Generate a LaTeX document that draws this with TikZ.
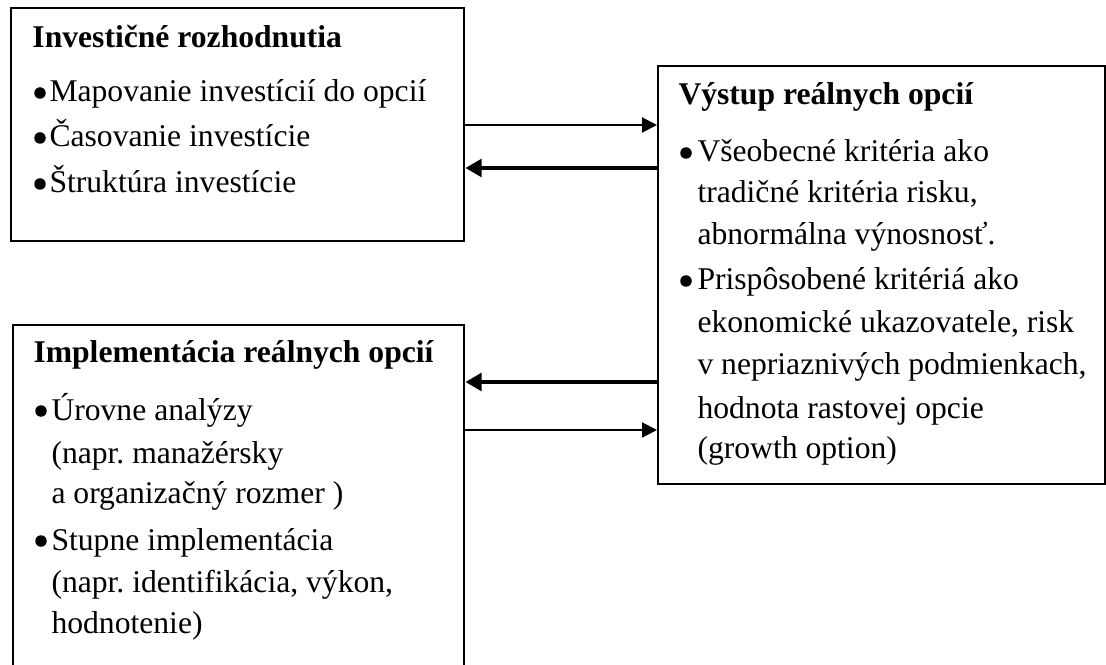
\documentclass[tikz,border=0pt]{standalone}
\usepackage{fontspec}
\setmainfont{Liberation Serif}
\usetikzlibrary{arrows.meta}
\frenchspacing
\begin{document}
\begin{tikzpicture}[x=0.4pt,y=-0.4pt,
  box/.style={draw, line width=0.95pt, anchor=north west, inner sep=0pt},
  ln/.style={anchor=base west, inner sep=0pt, font=\fontsize{12.65}{15}\selectfont},
  ttl/.style={anchor=base west, inner sep=0pt, font=\fontsize{12.65}{15}\selectfont\bfseries},
  bul/.style={circle, fill, inner sep=0pt, minimum size=4.6pt},
  thinarrow/.style={line width=0.8pt, -{Triangle[length=6pt,width=6pt]}},
  thickarrow/.style={line width=1.9pt, -{Triangle[length=6.5pt,width=7pt]}}]
\useasboundingbox (0,0) rectangle (1106,665);
\clip (0,0) rectangle (1106,665);
% boxes
\node[box, minimum width=181.2pt, minimum height=93.2pt] (b1) at (10,7) {};
\node[box, minimum width=178.8pt, minimum height=167.2pt] (b2) at (657,65) {};
\node[box, minimum width=180.4pt, minimum height=150.4pt] (b3) at (12,324) {};
% box 1 text
\node[ttl] (t1) at (32,48) {Investičné rozhodnutia};
\node[bul] (p1a) at (40,93) {};
\node[ln] (l1a) at (49,102) {Mapovanie investícií do opcií};
\node[bul] (p1b) at (40,138) {};
\node[ln] (l1b) at (49,147) {Časovanie investície};
\node[bul] (p1c) at (40,184) {};
\node[ln] (l1c) at (49,193) {Štruktúra investície};
% box 2 text
\node[ttl] (t2) at (678,105) {Výstup reálnych opcií};
\node[bul] (p2a) at (686,153) {};
\node[ln] (l2a) at (697,162) {Všeobecné kritéria ako};
\node[ln] (l2b) at (697,203) {tradičné kritéria risku,};
\node[ln] (l2c) at (697,245) {abnormálna výnosnosť.};
\node[bul] (p2b) at (686,281) {};
\node[ln] (l2d) at (697,290) {Prispôsobené kritériá ako};
\node[ln] (l2e) at (697,333) {ekonomické ukazovatele, risk};
\node[ln] (l2f) at (697,375) {v nepriaznivých podmienkach,};
\node[ln] (l2g) at (697,418) {hodnota rastovej opcie};
\node[ln] (l2h) at (697,458) {(growth option)};
% box 3 text
\node[ttl] (t3) at (33,363) {Implementácia reálnych opcií};
\node[bul] (p3a) at (41,411) {};
\node[ln] (l3a) at (51,420) {Úrovne analýzy};
\node[ln] (l3b) at (51,463) {(napr. manažérsky};
\node[ln] (l3c) at (51,503) {a organizačný rozmer )};
\node[bul] (p3b) at (41,541) {};
\node[ln] (l3d) at (51,550) {Stupne implementácia};
\node[ln] (l3e) at (51,592) {(napr. identifikácia, výkon,};
\node[ln] (l3f) at (51,633) {hodnotenie)};
% connectors
\draw[thinarrow] (b1.east |- 0,125) -- (b2.west |- 0,125);
\draw[thickarrow] (b2.west |- 0,168) -- (b1.east |- 0,168);
\draw[thickarrow] (b2.west |- 0,382) -- (b3.east |- 0,382);
\draw[thinarrow] (b3.east |- 0,430) -- (b2.west |- 0,430);
\end{tikzpicture}
\end{document}
